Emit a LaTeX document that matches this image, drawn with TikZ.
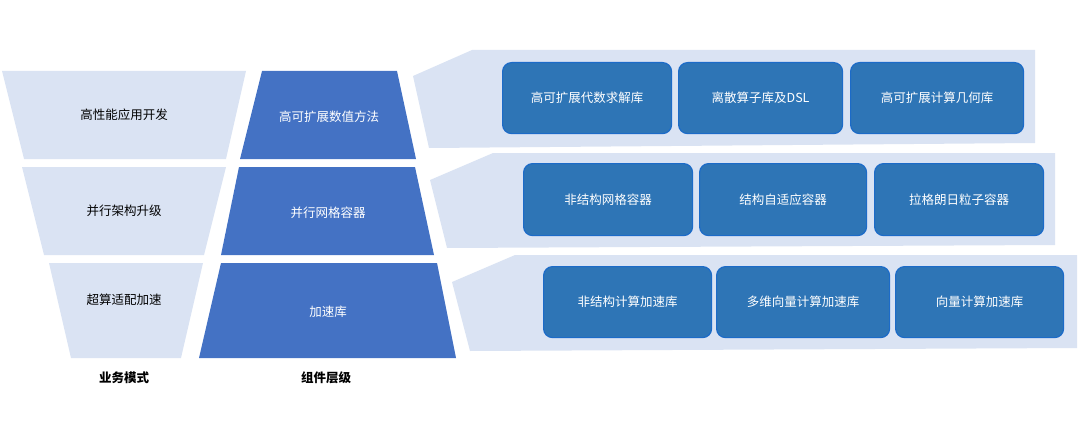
\documentclass[tikz,border=0pt]{standalone}
\usepackage{fontspec}
\setmainfont{Noto Sans CJK SC}
\usetikzlibrary{positioning}

\definecolor{paleblue}{HTML}{DAE3F3}
\definecolor{midblue}{HTML}{4472C4}
\definecolor{boxblue}{HTML}{2E75B6}
\definecolor{boxedge}{HTML}{1C6BC8}

\tikzset{
  pale/.style={fill=paleblue, draw=none},
  layer/.style={fill=midblue, draw=none},
  lib/.style={rounded corners=9pt, fill=boxblue, draw=boxedge, line width=1.2pt,
    anchor=north west, text=white, font=\fontsize{12.5}{14}\selectfont},
  lbl/.style={font=\fontsize{12.5}{14}\selectfont},
}

\begin{document}
\begin{tikzpicture}[x=1pt, y=-1pt]
  \useasboundingbox (0,0) rectangle (1080,436);

  % business modes
  \fill [pale] (2,71) -- (246,71) -- (226,159) -- (24,159) -- cycle;
  \fill [pale] (22,167) -- (226,167) -- (204,255) -- (44,255) -- cycle;
  \fill [pale] (49,263) -- (203,263) -- (181,358) -- (71,358) -- cycle;
  \node [lbl] (modeA) at (124,115) {高性能应用开发};
  \node [lbl] (modeB) at (124,211) {并行架构升级};
  \node [lbl] (modeC) at (124,300) {超算适配加速};

  % light bands behind the libraries
  \fill [pale] (413,76) -- (472,50) -- (1035,50) -- (1035,143) -- (429,148) -- cycle;
  \fill [pale] (430,180) -- (493,153) -- (1055,153) -- (1055,245) -- (447,248) -- cycle;
  \fill [pale] (452,282) -- (515,255) -- (1077,255) -- (1077,348) -- (470,351) -- cycle;

  % component layers
  \fill [layer] (262,71) -- (397,71) -- (416,159) -- (240,159) -- cycle;
  \fill [layer] (239,167) -- (415,167) -- (434,255) -- (221,255) -- cycle;
  \fill [layer] (221,263) -- (437,263) -- (456,358) -- (199,358) -- cycle;
  \node [lbl, text=white] (layerA) at (329,117) {高可扩展数值方法};
  \node [lbl, text=white] (layerB) at (328,213) {并行网格容器};
  \node [lbl, text=white] (layerC) at (328,312) {加速库};

  % libraries
  \node [lib, minimum width=169pt, minimum height=71pt] (algebra) at (502,62) {高可扩展代数求解库};
  \node [lib, minimum width=164pt, minimum height=71pt] (stencil) at (678,62) {离散算子库及DSL};
  \node [lib, minimum width=173pt, minimum height=71pt] (geometry) at (850,62) {高可扩展计算几何库};

  \node [lib, minimum width=169pt, minimum height=72pt] (unstruct) at (523,163) {非结构网格容器};
  \node [lib, minimum width=167pt, minimum height=72pt] (adaptive) at (699,163) {结构自适应容器};
  \node [lib, minimum width=169pt, minimum height=72pt] (particle) at (874,163) {拉格朗日粒子容器};

  \node [lib, minimum width=168pt, minimum height=71pt] (unaccel) at (543,266) {非结构计算加速库};
  \node [lib, minimum width=173pt, minimum height=71pt] (multivec) at (716,266) {多维向量计算加速库};
  \node [lib, minimum width=168pt, minimum height=71pt] (vecaccel) at (895,266) {向量计算加速库};

  % captions
  \node [lbl, font=\bfseries\fontsize{12.5}{14}\selectfont] (modeCap) at (124,378) {业务模式};
  \node [lbl, font=\bfseries\fontsize{12.5}{14}\selectfont] (layerCap) at (326,378) {组件层级};
\end{tikzpicture}
\end{document}
